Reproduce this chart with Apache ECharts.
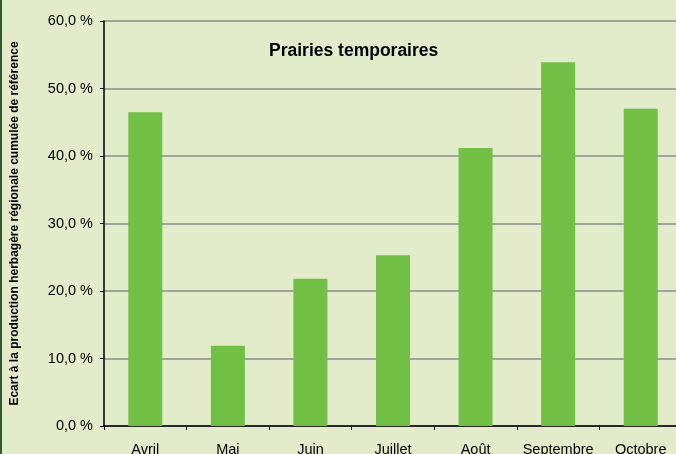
<!DOCTYPE html>
<html>
<head>
<meta charset="utf-8">
<script src="https://cdn.jsdelivr.net/npm/echarts@6/dist/echarts.min.js"></script>
<style>
  html, body { margin: 0; padding: 0; background: #e2ecca; }
  #chart { width: 676px; height: 454px; border-left: 2px solid #2f5b2f; box-sizing: border-box; }
</style>
</head>
<body>
<div id="chart"></div>
<script>
// months and cumulative gap (%)
const months = ['Avril', 'Mai', 'Juin', 'Juillet', 'Août', 'Septembre', 'Octobre'];
const ecart = [46.5, 11.9, 21.8, 25.3, 41.2, 53.9, 47.0];

const chart = echarts.init(document.getElementById('chart'), null, { renderer: 'canvas' });

chart.setOption({
  backgroundColor: '#e2ecca',
  animation: false,
  title: {
    text: 'Prairies temporaires',
    left: 262,
    top: 37,
    textStyle: { fontFamily: 'Liberation Sans, Arial', fontSize: 17.5, fontWeight: 'bold', color: '#000' }
  },
  grid: { left: 102, right: -6, top: 21, bottom: 28, outerBoundsMode: 'none', containLabel: false },
  xAxis: {
    type: 'category',
    data: months,
    axisLine: { lineStyle: { color: '#000', width: 1.5 } },
    axisTick: { show: true, length: 4, lineStyle: { color: '#000' } },
    axisLabel: { interval: 0, color: '#000', fontSize: 14.5, fontFamily: 'Liberation Sans, Arial', margin: 16 }
  },
  yAxis: {
    type: 'value',
    min: 0,
    max: 60,
    interval: 10,
    name: 'Ecart à la production herbagère régionale cumulée de référence',
    nameLocation: 'middle',
    nameGap: 83,
    nameRotate: 90,
    nameTextStyle: { fontFamily: 'Liberation Sans, Arial', fontSize: 12, fontWeight: 'bold', color: '#000' },
    axisLine: { show: true, lineStyle: { color: '#000', width: 1.5 } },
    axisTick: { show: true, length: 4, lineStyle: { color: '#000' } },
    axisLabel: {
      color: '#000', fontSize: 14.5, fontFamily: 'Liberation Sans, Arial', margin: 11,
      formatter: v => v.toFixed(1).replace('.', ',') + ' %'
    },
    splitLine: { lineStyle: { color: '#8c8c8c', width: 1.5 } }
  },
  series: [{
    type: 'bar',
    data: ecart,
    barWidth: 34,
    itemStyle: { color: '#71bf45' }
  }]
});
</script>
</body>
</html>
